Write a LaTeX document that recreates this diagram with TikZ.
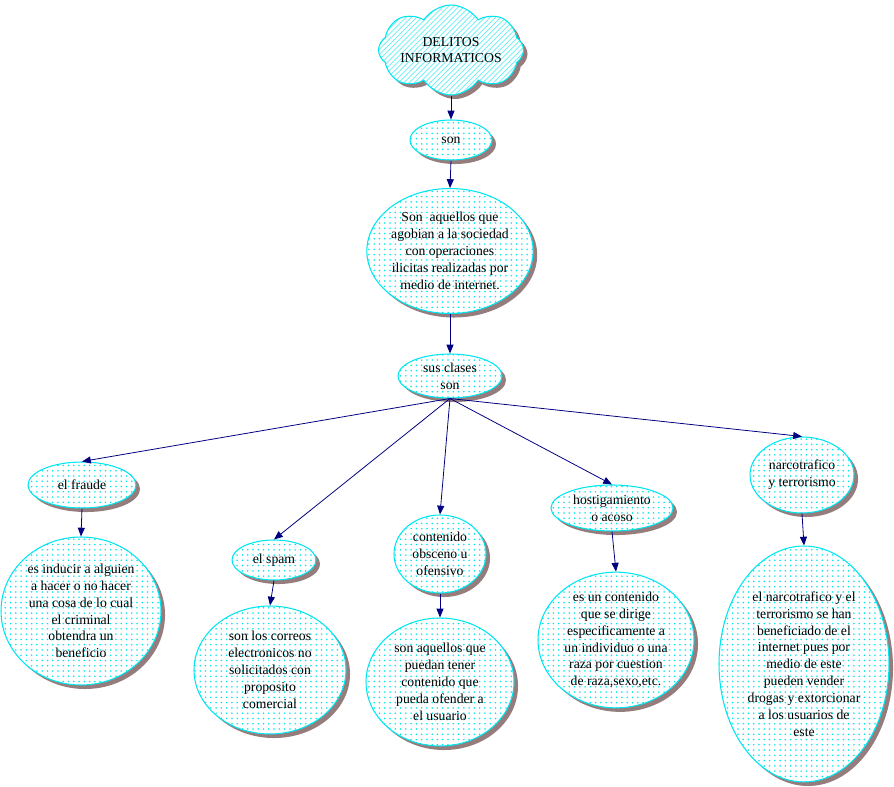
\documentclass[tikz,border=0pt]{standalone}
\usepackage{fontspec}
\setmainfont{Liberation Serif}
\usetikzlibrary{shapes.geometric,shapes.symbols,shadows,patterns,arrows.meta}

\definecolor{borde}{RGB}{0,230,240}
\definecolor{sombra}{RGB}{150,125,125}
\definecolor{linea}{RGB}{0,0,128}

\begin{document}
\begin{tikzpicture}[
    x=0.02cm, y=-0.02cm,
    font=\fontsize{7.8}{9.6}\selectfont,
    fondo/.style={drop shadow={shadow xshift=2.3pt,shadow yshift=-2.3pt,fill=sombra,opacity=1},
        preaction={fill=white}},
    concepto/.style={ellipse,fondo,draw=borde,line width=0.6pt,align=center,inner sep=0pt,
        pattern=dots,pattern color=borde},
    nube/.style={cloud,cloud puffs=8,cloud puff arc=115,cloud ignores aspect,fondo,draw=borde,
        line width=0.6pt,align=center,inner sep=0pt,pattern=north east lines,pattern color=borde!60},
    flecha/.style={-{Triangle[length=5pt,width=4pt]},draw=linea,line width=0.45pt}
]
\useasboundingbox (0,0) rectangle (894,787);

\node[nube,minimum width=2.9cm,minimum height=1.8cm] (delitos) at (451,50) {DELITOS\\INFORMATICOS};
\node[concepto,minimum width=1.64cm,minimum height=0.8cm] (son) at (451,140) {son};
\node[concepto,minimum width=2.9cm,minimum height=2.5cm] (definicion) at (450,251)
    {Son\ \ aquellos que\\agobian a la sociedad\\con operaciones\\ilicitas realizadas por\\medio de internet.};
\node[concepto,minimum width=2.08cm,minimum height=0.88cm] (clases) at (450,376) {sus clases\\son};

\node[concepto,minimum width=2.16cm,minimum height=0.92cm] (fraude) at (82,485) {el fraude};
\node[concepto,minimum width=3.2cm,minimum height=2.96cm] (inducir) at (81,611)
    {es inducir a alguien\\a hacer o no hacer\\una cosa de lo cual\\el criminal\\obtendra un\\beneficio};
\node[concepto,minimum width=1.68cm,minimum height=0.8cm] (spam) at (274,560) {el spam};
\node[concepto,minimum width=3.04cm,minimum height=2.56cm] (correos) at (270,670)
    {son los correos\\electronicos no\\solicitados con\\proposito\\comercial};
\node[concepto,minimum width=1.84cm,minimum height=1.56cm] (obsceno) at (440,554) {contenido\\obsceno u\\ofensivo};
\node[concepto,minimum width=2.96cm,minimum height=2.56cm] (ofender) at (440,682)
    {son aquellos que\\puedan tener\\contenido que\\pueda ofender a\\el usuario};
\node[concepto,minimum width=2.44cm,minimum height=0.92cm] (acoso) at (612,508) {hostigamiento\\o acoso};
\node[concepto,minimum width=3.12cm,minimum height=2.64cm] (raza) at (616,640)
    {es un contenido\\que se dirige\\especificamente a\\un individuo o una\\raza por cuestion\\de raza,sexo,etc.};
\node[concepto,minimum width=2.08cm,minimum height=1.52cm] (narco) at (802,475) {narcotrafico\\y terrorismo};
\node[concepto,minimum width=3.4cm,minimum height=4.72cm] (extorsion) at (804,664)
    {el narcotrafico y el\\terrorismo se han\\beneficiado de el\\internet pues por\\medio de este\\pueden vender\\drogas y extorcionar\\a los usuarios de\\este};

\draw[flecha] (delitos.south) -- (son.north);
\draw[flecha] (son.south) -- (definicion.north);
\draw[flecha] (definicion.south) -- (clases.north);
\draw[flecha] (clases.south) -- (fraude.north);
\draw[flecha] (clases.south) -- (spam.north);
\draw[flecha] (clases.south) -- (obsceno.north);
\draw[flecha] (clases.south) -- (acoso.north);
\draw[flecha] (clases.south) -- (narco.north);
\draw[flecha] (fraude.south) -- (inducir.north);
\draw[flecha] (spam.south) -- (correos.north);
\draw[flecha] (obsceno.south) -- (ofender.north);
\draw[flecha] (acoso.south) -- (raza.north);
\draw[flecha] (narco.south) -- (extorsion.north);

\end{tikzpicture}
\end{document}
